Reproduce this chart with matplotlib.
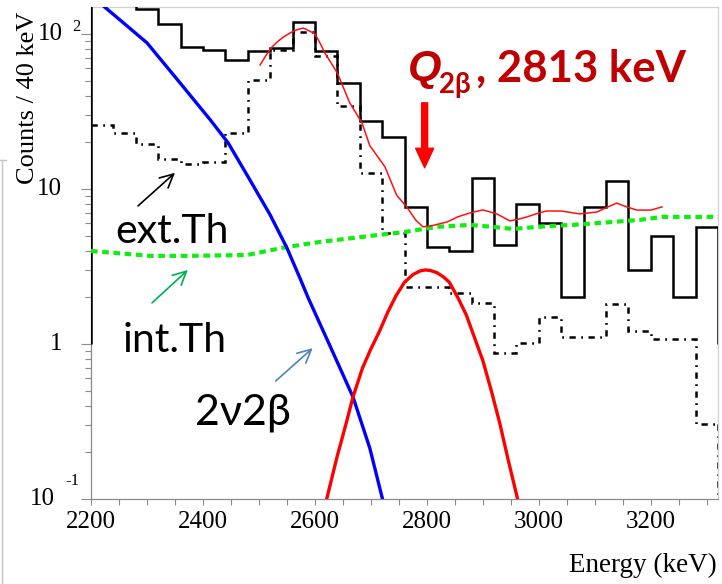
import numpy as np
import matplotlib
matplotlib.use("Agg")
import matplotlib.pyplot as plt
from matplotlib.lines import Line2D
from matplotlib.ticker import LogLocator, MultipleLocator, NullFormatter
from matplotlib.transforms import blended_transform_factory, offset_copy

W, H = 722, 584

# ---------------------------------------------------------------------------
# Spectrum data (40 keV bins, 2200-3320 keV)
# ---------------------------------------------------------------------------
bin_edges = np.arange(2200, 3321, 40)

data_counts = [175, 160, 145, 116, 82, 79, 68, 77, 81, 119, 77, 48, 27.5, 21.6,
               7.7, 4.2, 4.0, 11.8, 4.35, 8.0, 6.0, 2.0, 7.7, 11.3, 3.0, 5.0,
               2.0, 5.7]

ext_th_counts = [25.9, 23.0, 19.5, 15.6, 14.5, 14.9, 23.0, 50.5, 79, 103, 72,
                 34.3, 12.7, 5.2, 2.33, 2.33, 2.13, 1.84, 0.875, 1.01, 1.49,
                 1.11, 1.11, 1.81, 1.21, 1.08, 1.08, 0.305]

int_th_e = [2200, 2305, 2377, 2479, 2550, 2609, 2698, 2761, 2818, 2877, 2918,
            2954, 3020, 3061, 3132, 3180, 3221, 3270, 3320]
int_th_v = [3.98, 3.70, 3.70, 3.75, 4.22, 4.55, 4.97, 5.28, 5.69, 5.86, 5.69,
            5.52, 5.77, 5.86, 6.12, 6.31, 6.6, 6.6, 6.6]

two_nu_e = [2216, 2260, 2300, 2359, 2413, 2445, 2484, 2520, 2550, 2573, 2588,
            2627, 2668, 2698, 2721, 2725]
two_nu_v = [158, 116, 87.5, 48.3, 27.9, 19.8, 11.4, 6.8, 4.16, 2.67, 1.98,
            0.97, 0.455, 0.213, 0.099, 0.09]

signal_e = [2612, 2621, 2640, 2655, 2668, 2685, 2700, 2715, 2730, 2745, 2760,
            2775, 2788, 2797, 2806, 2818, 2830, 2840, 2855, 2870, 2885, 2900,
            2915, 2930, 2945, 2962, 2970]
signal_v = [0.08, 0.1, 0.19, 0.30, 0.455, 0.70, 0.93, 1.2, 1.6, 2.05, 2.5,
            2.8, 2.96, 3.0, 2.98, 2.88, 2.7, 2.5, 2.0, 1.55, 1.1, 0.78, 0.5,
            0.31, 0.18, 0.1, 0.08]

fit_e = [2502, 2512, 2523, 2533, 2543, 2555, 2567, 2579, 2591, 2600, 2610,
         2618, 2630, 2640, 2662, 2684, 2698, 2725, 2746, 2764, 2780, 2793,
         2810, 2836, 2855, 2877, 2900, 2925, 2948, 2965, 2979, 3000, 3014,
         3040, 3073, 3104, 3125, 3139, 3155, 3175, 3200, 3220]
fit_v = [63, 72, 82, 89, 95, 101, 106, 109, 104, 100, 86, 75, 64, 56, 36,
         26.7, 19.0, 13.9, 9.1, 7.65, 6.3, 5.69, 5.8, 6.12, 6.6, 7.0, 7.32,
         6.9, 6.22, 6.4, 6.6, 7.0, 7.2, 7.2, 6.9, 7.1, 7.7, 8.1, 7.7, 7.3,
         7.3, 7.65]

q_value_kev = 2796

# ---------------------------------------------------------------------------
# Style
# ---------------------------------------------------------------------------
SERIF = "Liberation Serif"
SANS = ["Lato", "Noto Sans", "DejaVu Sans"]
DARK_RED = "#c00000"
AXIS_GREY = "#8a8a8a"
FRAME_GREY = "#d0d0d0"
DASHDOT = (0, (2.5, 2.2, 0.7, 2.2))


def px(x, y):
    """pixel position -> figure fraction"""
    return x / W, 1 - y / H


fig = plt.figure(figsize=(W / 100, H / 100), dpi=100, facecolor="white")
ax = fig.add_axes([91 / W, 1 - 499 / H, (718 - 91) / W, (499 - 7) / H])
ax.set_yscale("log")
ax.set_xlim(2200, 3320)
ax.set_ylim(0.1, 149)

# histograms
ax.stairs(ext_th_counts, bin_edges, baseline=None, color="black", lw=1.8,
          linestyle=DASHDOT, zorder=2)
ax.plot([bin_edges[-1], bin_edges[-1]], [ext_th_counts[-1], 0.05], color="black",
        lw=1.8, linestyle=DASHDOT, zorder=2)
ax.stairs(data_counts, bin_edges, baseline=1, color="black", lw=1.8, zorder=3)

# model components
ax.plot(int_th_e, int_th_v, color="#10ee10", lw=3.0, linestyle=(0, (1.6, 1.1)),
        zorder=4)
ax.plot(two_nu_e, two_nu_v, color="#0000ff", lw=2.4, zorder=5)
ax.plot(signal_e, signal_v, color="#ff0000", lw=2.4, zorder=5)
ax.plot(fit_e, fit_v, color="#ff1010", lw=1.1, zorder=6)

# axes cosmetics
for side in ("left", "bottom"):
    ax.spines[side].set_color(AXIS_GREY)
    ax.spines[side].set_linewidth(0.9)
for side in ("top", "right"):
    ax.spines[side].set_color(FRAME_GREY)
    ax.spines[side].set_linewidth(0.9)

ax.xaxis.set_major_locator(MultipleLocator(200))
ax.xaxis.set_minor_locator(MultipleLocator(50))
ax.tick_params(axis="x", which="both", direction="out", color=AXIS_GREY,
               length=4, width=0.8, pad=5, labelsize=18, top=False)
for lab in ax.get_xticklabels():
    lab.set_family(SERIF)

ax.yaxis.set_major_locator(LogLocator(base=10, numticks=10))
ax.yaxis.set_minor_locator(LogLocator(base=10, subs=np.arange(2, 10), numticks=10))
ax.yaxis.set_major_formatter(NullFormatter())
ax.yaxis.set_minor_formatter(NullFormatter())
ax.tick_params(axis="y", which="major", direction="out", color=AXIS_GREY,
               length=7, width=0.8, right=False)
ax.tick_params(axis="y", which="minor", direction="out", color=AXIS_GREY,
               length=4, width=0.8, right=False)

# ROOT-style log labels: "10" with a detached exponent
ytick_vals = [0.1, 1, 10, 100]
ytick_base = ["10", "1", "10", "10"]
ytick_exp = ["-1", "", "", "2"]
base_right_px = [55, 62, 62, 63]
exp_left_px = [65, 0, 0, 72]
exp_raise_px = [18, 0, 0, 7]
ylab_tr = blended_transform_factory(fig.transFigure, ax.transData)
for val, base, exp, bx, ex, er in zip(ytick_vals, ytick_base, ytick_exp,
                                      base_right_px, exp_left_px, exp_raise_px):
    ax.text(bx / W, val, base, transform=ylab_tr, ha="right", va="center",
            fontsize=18, family=SERIF)
    if exp:
        tr = offset_copy(ylab_tr, fig=fig, x=0, y=er, units="dots")
        ax.text(ex / W, val, exp, transform=tr, ha="left", va="center",
                fontsize=12, family=SERIF)

fig.text(*px(717, 572), "Energy (keV)", ha="right", va="baseline",
         fontsize=19.5, family=SERIF)
fig.text(*px(28, 98), "Counts / 40 keV", rotation=90, ha="center",
         va="center", fontsize=19, family=SERIF)

# Q-value marker
ax.annotate("", xy=(q_value_kev, 13.7), xytext=(q_value_kev, 35.9),
            arrowprops=dict(width=4.3, headwidth=13, headlength=14,
                            color="#ff0000", shrink=0))
fig.text(*px(408, 80), "Q", fontsize=31, fontweight="bold", style="italic",
         color=DARK_RED, family="Liberation Sans")
fig.text(*px(439, 93), "2β", fontsize=20, fontweight="bold", color=DARK_RED,
         family=SANS)
fig.text(*px(476, 82), ", 2813 keV", fontsize=31.5, fontweight="bold",
         color=DARK_RED, family=SANS)

# component labels with pointers
fig.text(*px(115, 243), "ext.Th", fontsize=29.5, family=SANS, va="baseline")
fig.text(*px(123, 352), "int.Th", fontsize=29.5, family=SANS, va="baseline")
fig.text(*px(195, 425), "2ν2β", fontsize=31, family=SANS, va="baseline")

pointers = [
    ((2284, 7.77), (2350, 12.7), "black"),
    ((2309, 1.84), (2373, 3.0), "#00b050"),
    ((2530, 0.577), (2596, 0.94), "#4f81bd"),
]
for tail, tip, col in pointers:
    ax.annotate("", xy=tip, xytext=tail,
                arrowprops=dict(arrowstyle="->,head_length=0.8,head_width=0.4",
                                color=col, lw=1.2, shrinkA=0, shrinkB=0,
                                mutation_scale=12))

# slide frame edge at the left
fig.add_artist(Line2D([1.5 / W, 1.5 / W], [1 - 160 / H, 0], color="#c4c4c4",
                      lw=1, transform=fig.transFigure))
fig.add_artist(Line2D([0, 6 / W], [1 - 160 / H, 1 - 160 / H], color="#c4c4c4",
                      lw=1, transform=fig.transFigure))

fig.savefig("out.png", dpi=100, facecolor="white")
